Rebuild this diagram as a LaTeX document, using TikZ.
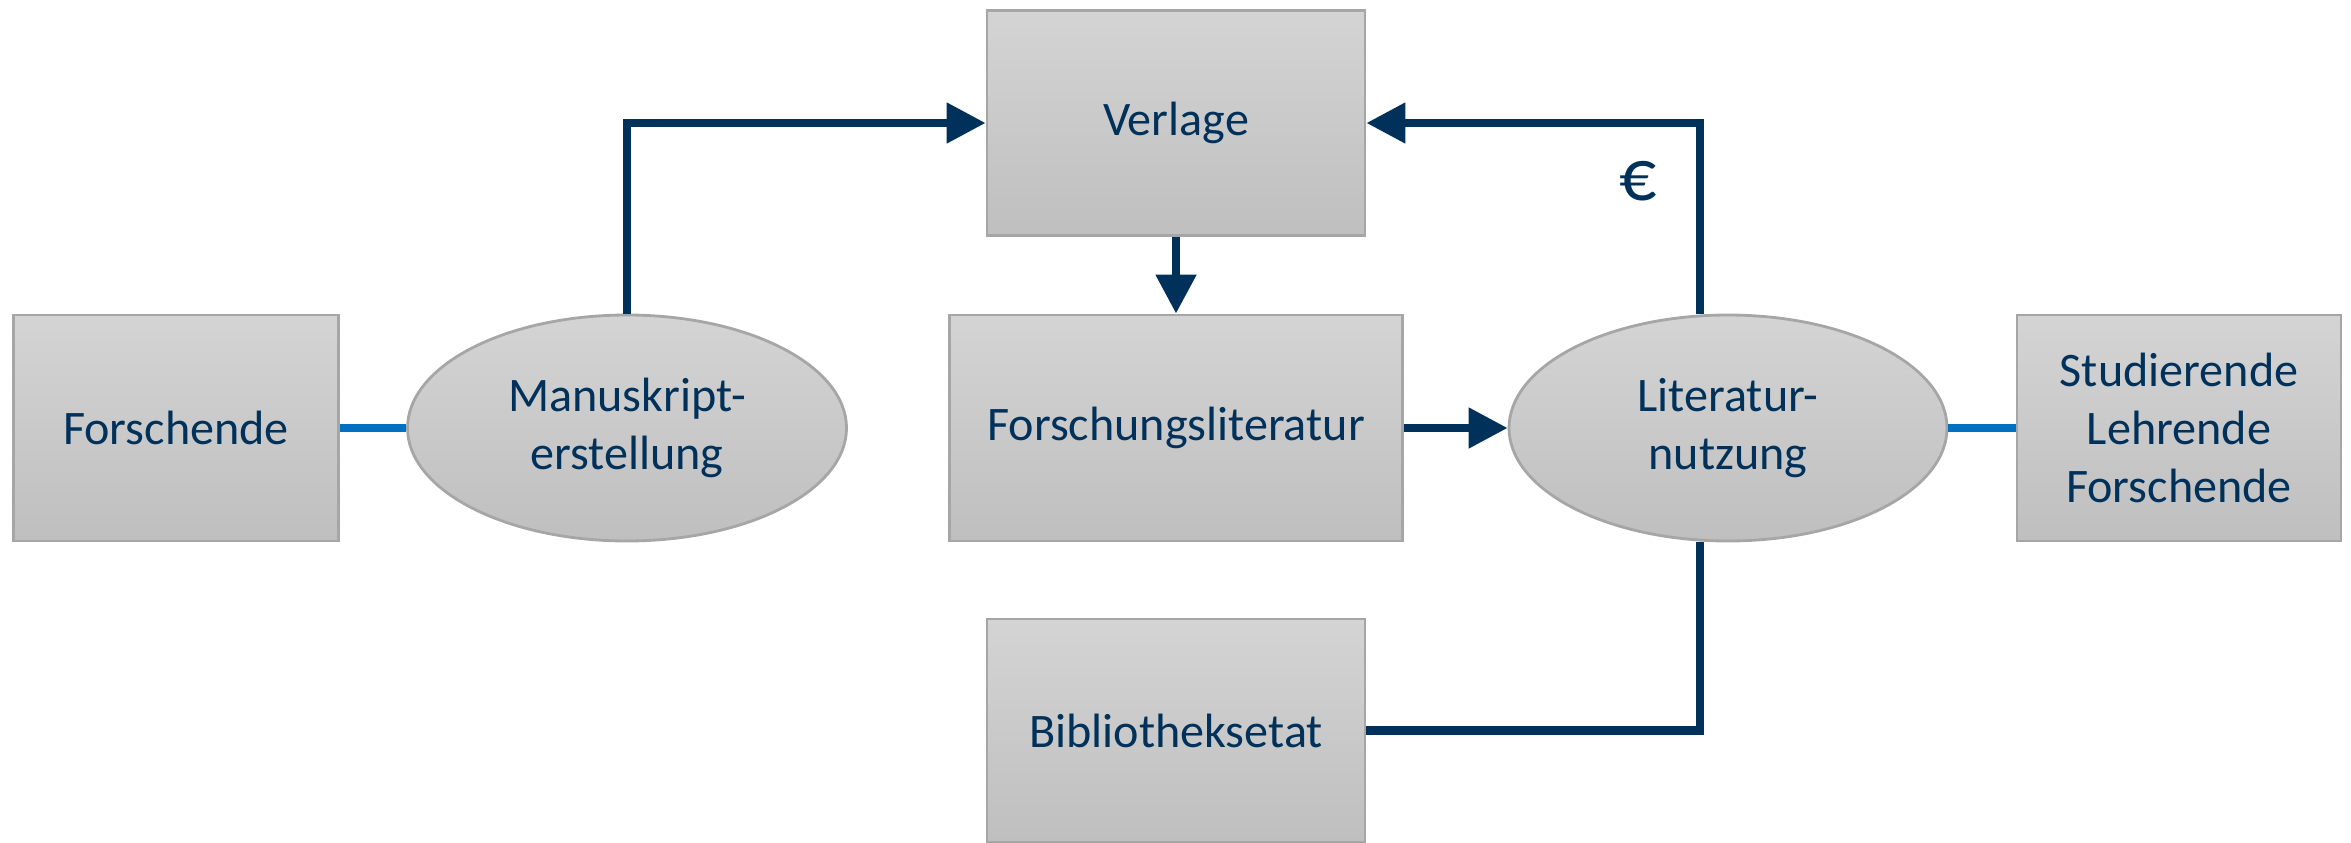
\documentclass[tikz,border=0pt]{standalone}
\usepackage{fontspec}
\setmainfont{Carlito}
\usetikzlibrary{arrows.meta,shapes.geometric}

\definecolor{navy}{HTML}{00315A}
\definecolor{linkblue}{HTML}{0070C0}
\definecolor{boxline}{HTML}{A6A6A6}
\definecolor{boxtop}{HTML}{D4D4D4}
\definecolor{boxbottom}{HTML}{BFBFBF}

\tikzset{
	block/.style={rectangle, draw=boxline, line width=0.8pt, top color=boxtop, bottom color=boxbottom,
		text=navy, align=center, inner sep=0pt, font=\fontsize{13.7}{16.4}\selectfont},
	process/.style={block, ellipse},
	flow/.style={navy, line width=2.3pt, -{Triangle[length=3.9mm,width=3.9mm]}},
	money/.style={navy, line width=2.3pt},
	link/.style={linkblue, line width=2.3pt}
}

\begin{document}
\begin{tikzpicture}
		\useasboundingbox (0,0) rectangle (23.51,8.42);

		% Actors and products
		\node[block, minimum width=3.25cm, minimum height=2.26cm] (forsch) at (1.76,4.14) {Forschende};
		\node[block, minimum width=3.78cm, minimum height=2.25cm] (verl) at (11.76,7.19) {Verlage};
		\node[block, minimum width=4.53cm, minimum height=2.26cm] (flit) at (11.76,4.14) {Forschungsliteratur};
		\node[block, minimum width=3.24cm, minimum height=2.26cm] (stud) at (21.79,4.14) {Studierende\\Lehrende\\Forschende};
		\node[block, minimum width=3.78cm, minimum height=2.23cm] (bib) at (11.76,1.115) {Bibliotheksetat};

		% Processes
		\node[process, minimum width=4.39cm, minimum height=2.26cm] (manu) at (6.27,4.14) {Manuskript-\\erstellung};
		\node[process, minimum width=4.38cm, minimum height=2.26cm] (litn) at (17.28,4.14) {Literatur-\\nutzung};

		% Flows
		\draw[flow] (manu.north) |- (verl.west);
		\draw[flow] (verl.south) -- (flit.north);
		\draw[flow] (flit.east) -- (litn.west);
		\draw[flow] ([xshift=-2.8mm]litn.north) |- (verl.east);
		\draw[money] (bib.east) -| ([xshift=-2.8mm]litn.south);

		% Links to people
		\draw[link] (forsch.east) -- (manu.west);
		\draw[link] (litn.east) -- (stud.west);

		\node[text=navy, font=\fontsize{21}{25}\selectfont] (euro) at (16.38,6.61) {€};
	\end{tikzpicture}
\end{document}
